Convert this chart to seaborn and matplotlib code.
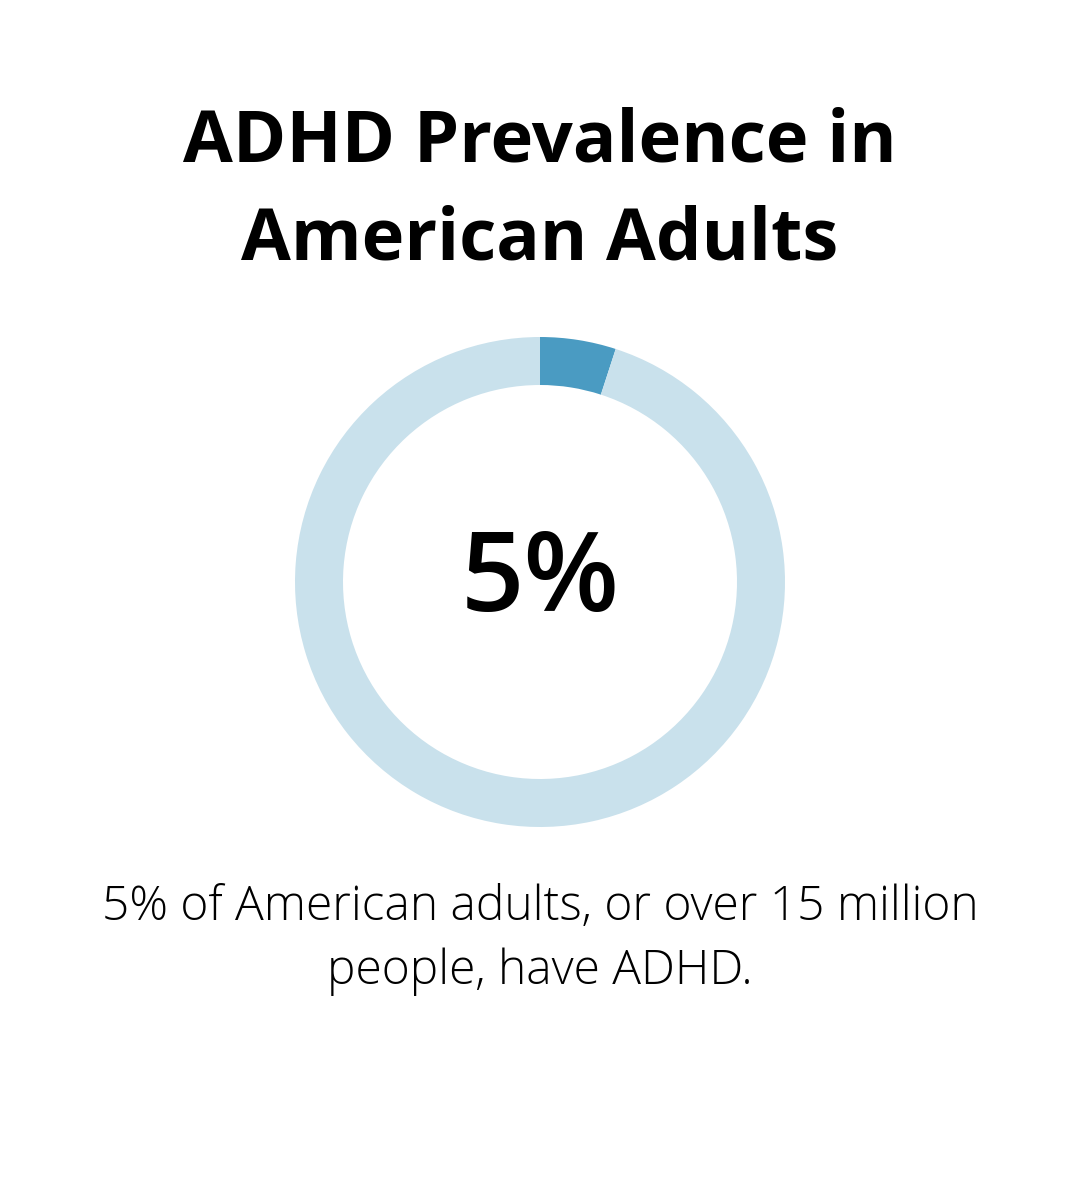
import matplotlib
matplotlib.use("Agg")
import matplotlib.pyplot as plt
import seaborn as sns

labels = ["ADHD", "Other"]
values = [5, 95]
colors = ["#4a9bc2", "#c9e1ec"]

sns.set_theme(style="white")
plt.rcParams['font.family'] = ['Open Sans', 'DejaVu Sans']

fig = plt.figure(figsize=(10.8, 11.84), dpi=100)
fig.patch.set_facecolor("white")

fig.text(0.5, 1 - 143/1184, "ADHD Prevalence in", ha="center", va="center",
         fontsize=52, fontweight="bold", color="black")
fig.text(0.5, 1 - 240/1184, "American Adults", ha="center", va="center",
         fontsize=52, fontweight="bold", color="black")

ax = fig.add_axes([0.5 - 0.4537/2, 1 - 582/1184 - 0.4139/2, 0.4537, 0.4139])
ax.pie(values, colors=colors, startangle=90, counterclock=False, radius=1,
       wedgeprops=dict(width=48/245, edgecolor="none"))
ax.set_xlim(-1, 1)
ax.set_ylim(-1, 1)
ax.set_aspect("equal")
ax.text(0, 0, "5%", ha="center", va="center", fontsize=80, fontweight="semibold", color="black")

fig.text(0.5, 1 - 908/1184, "5% of American adults, or over 15 million", ha="center", va="center",
         fontsize=34.5, fontweight="light", color="black")
fig.text(0.5, 1 - 972/1184, "people, have ADHD.", ha="center", va="center",
         fontsize=34.5, fontweight="light", color="black")

fig.savefig("out.png", dpi=100, facecolor="white")
